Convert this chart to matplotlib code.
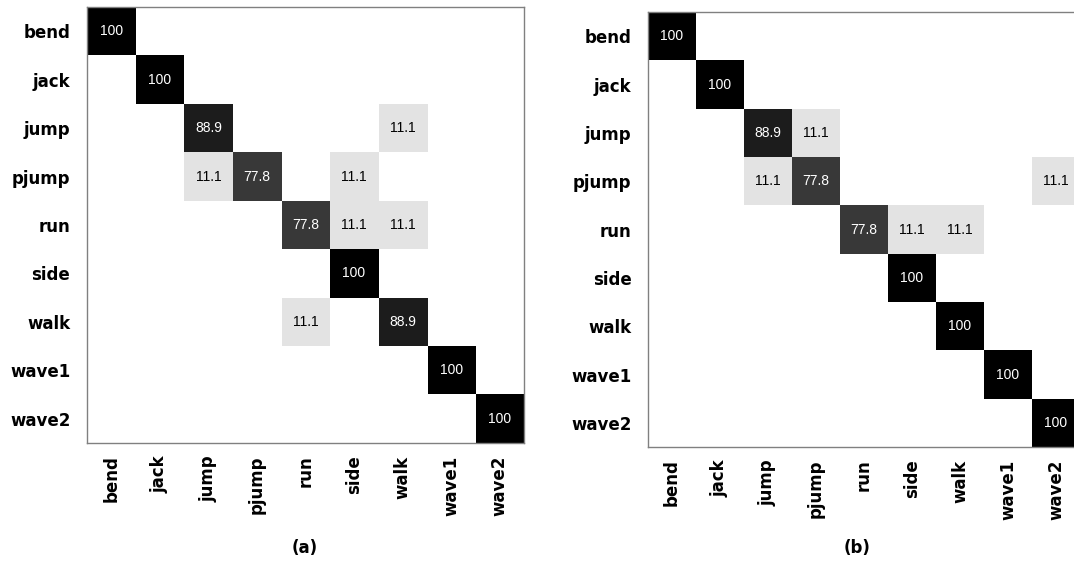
import numpy as np
import matplotlib
matplotlib.use('agg')
import matplotlib.pyplot as plt

classes = ['bend', 'jack', 'jump', 'pjump', 'run', 'side', 'walk', 'wave1', 'wave2']

# rows = true class, cols = predicted class (%)
conf_a = np.array([
    [100, 0, 0, 0, 0, 0, 0, 0, 0],
    [0, 100, 0, 0, 0, 0, 0, 0, 0],
    [0, 0, 88.9, 0, 0, 0, 11.1, 0, 0],
    [0, 0, 11.1, 77.8, 0, 11.1, 0, 0, 0],
    [0, 0, 0, 0, 77.8, 11.1, 11.1, 0, 0],
    [0, 0, 0, 0, 0, 100, 0, 0, 0],
    [0, 0, 0, 0, 11.1, 0, 88.9, 0, 0],
    [0, 0, 0, 0, 0, 0, 0, 100, 0],
    [0, 0, 0, 0, 0, 0, 0, 0, 100],
])

conf_b = np.array([
    [100, 0, 0, 0, 0, 0, 0, 0, 0],
    [0, 100, 0, 0, 0, 0, 0, 0, 0],
    [0, 0, 88.9, 11.1, 0, 0, 0, 0, 0],
    [0, 0, 11.1, 77.8, 0, 0, 0, 0, 11.1],
    [0, 0, 0, 0, 77.8, 11.1, 11.1, 0, 0],
    [0, 0, 0, 0, 0, 100, 0, 0, 0],
    [0, 0, 0, 0, 0, 0, 100, 0, 0],
    [0, 0, 0, 0, 0, 0, 0, 100, 0],
    [0, 0, 0, 0, 0, 0, 0, 0, 100],
])

captions = ['(a)', '(b)']


def draw_conf(ax, M):
    ax.imshow(M, cmap='gray_r', vmin=0, vmax=100, aspect='auto',
              interpolation='nearest')
    n = len(classes)
    for i in range(n):
        for j in range(n):
            v = M[i, j]
            if v == 0:
                continue
            txt = '%g' % v
            col = 'white' if v > 50 else 'black'
            ax.text(j, i, txt, ha='center', va='center', color=col,
                    fontsize=10, family='Liberation Sans')
    ax.set_xticks(range(n))
    ax.set_yticks(range(n))
    ax.set_xticklabels(classes, rotation=90, fontsize=12, fontweight='bold')
    ax.set_yticklabels(classes, fontsize=12, fontweight='bold')
    ax.tick_params(axis='x', length=0, pad=9)
    ax.tick_params(axis='y', length=0, pad=12)
    for s in ax.spines.values():
        s.set_color('#808080')
        s.set_linewidth(1)
    ax.set_xlim(-0.5, n - 0.5)
    ax.set_ylim(n - 0.5, -0.5)


fig = plt.figure(figsize=[10.74, 5.62], dpi=100)
ax1 = fig.add_axes([0.081, 0.2117, 0.4069, 0.7758])
ax2 = fig.add_axes([0.6034, 0.2046, 0.4022, 0.774])
draw_conf(ax1, conf_a)
draw_conf(ax2, conf_b)
fig.text(305 / 1074, 1 - 548 / 562, captions[0], ha='center', va='center',
         fontsize=12, fontweight='bold')
fig.text(857 / 1074, 1 - 548 / 562, captions[1], ha='center', va='center',
         fontsize=12, fontweight='bold')

fig.savefig('out.png', dpi=100)
plt.close('all')
